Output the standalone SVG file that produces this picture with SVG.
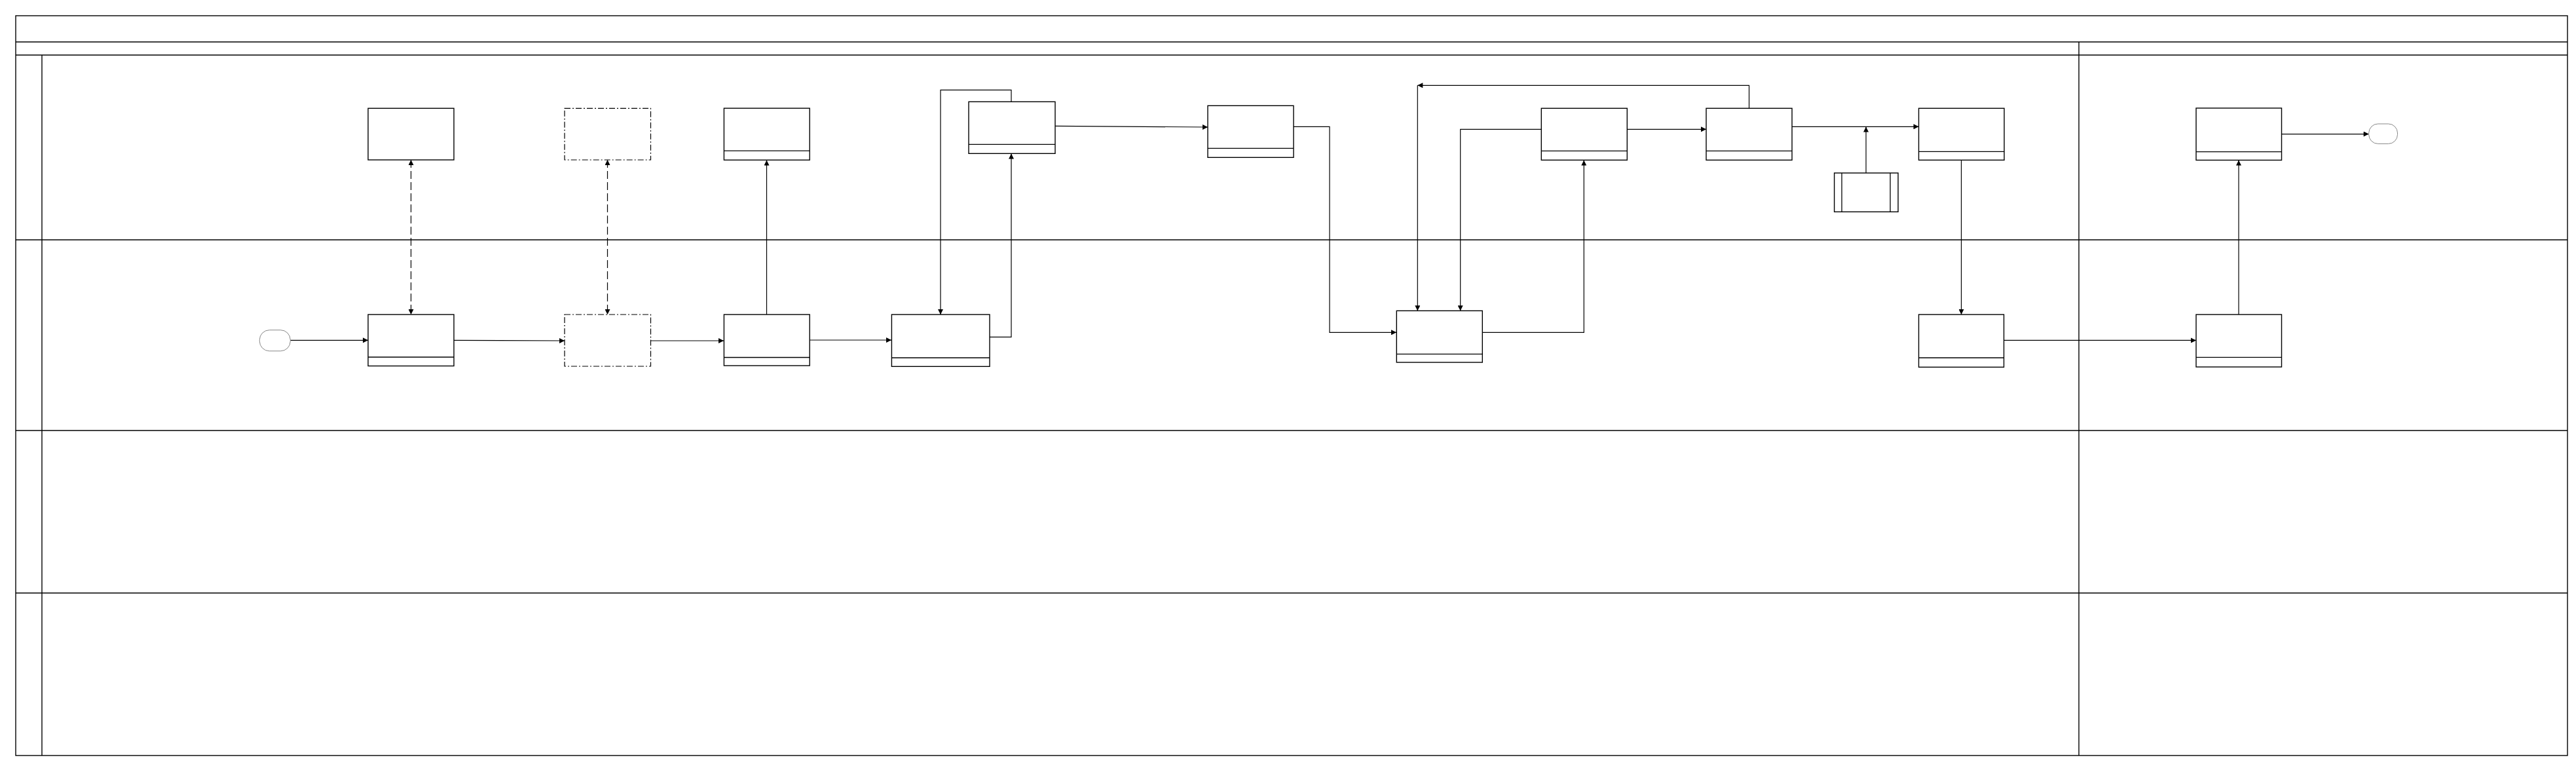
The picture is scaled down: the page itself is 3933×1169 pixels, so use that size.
<svg xmlns="http://www.w3.org/2000/svg" width="3933" height="1169" viewBox="0 0 3933 1169">
<style>
.frame{fill:none;stroke:#000;stroke-width:1.4}
.box{fill:#fff;stroke:#000;stroke-width:1.4}
.dbox{fill:#fff;stroke:#000;stroke-width:1.2;stroke-dasharray:9 3 2 3}
.div{stroke:#000;stroke-width:1.3}
.term{fill:#fff;stroke:#888;stroke-width:1}
.c{fill:none;stroke:#000;stroke-width:1.2}
.cd{fill:none;stroke:#000;stroke-width:1.2;stroke-dasharray:12 5}
</style>
<defs>
<marker id="ah" viewBox="0 0 10 10" refX="10" refY="5" markerWidth="9" markerHeight="8" markerUnits="userSpaceOnUse" orient="auto-start-reverse">
<path d="M0,0 L10,5 L0,10 Z" fill="#000"/>
</marker>
</defs>
<rect width="3933" height="1169" fill="#fff"/>
<g id="pool">
<rect class="frame" x="24" y="24" width="3896" height="1129"/>
<line class="frame" x1="24" y1="64" x2="3920" y2="64"/>
<line class="frame" x1="24" y1="84" x2="3920" y2="84"/>
<line class="frame" x1="24" y1="366" x2="3920" y2="366"/>
<line class="frame" x1="24" y1="657" x2="3920" y2="657"/>
<line class="frame" x1="24" y1="905" x2="3920" y2="905"/>
<line class="frame" x1="64" y1="84" x2="64" y2="1153"/>
<line class="frame" x1="3174" y1="64" x2="3174" y2="1153"/>
</g>
<g id="connectors">
<path class="c" d="M443,519.3 H562" marker-end="url(#ah)"/>
<path class="cd" d="M627.5,244 V480" marker-start="url(#ah)" marker-end="url(#ah)"/>
<path class="cd" d="M927.5,244 V480" marker-start="url(#ah)" marker-end="url(#ah)"/>
<path class="c" d="M693,519.3 L862,520" marker-end="url(#ah)"/>
<path class="c" d="M993.5,520 L1105,520" marker-end="url(#ah)"/>
<path class="c" d="M1170.5,480 V244.5" marker-end="url(#ah)"/>
<path class="c" d="M1236,519 H1361" marker-end="url(#ah)"/>
<path class="c" d="M1544,155.3 V137.3 H1436 V480" marker-end="url(#ah)"/>
<path class="c" d="M1511,514.3 H1544 V234.5" marker-end="url(#ah)"/>
<path class="c" d="M1611,192.3 L1844,194" marker-end="url(#ah)"/>
<path class="c" d="M1975,193.3 H2030 V507.3 H2132" marker-end="url(#ah)"/>
<path class="c" d="M2670.5,165.3 V130.3 H2164.3" marker-end="url(#ah)"/>
<path class="c" d="M2164.3,130.3 V474.3" stroke="#333" marker-end="url(#ah)"/>
<path class="c" d="M2353.3,197.3 H2229.7 V474.3" marker-end="url(#ah)"/>
<path class="c" d="M2263.3,507.3 H2418.3 V244.5" marker-end="url(#ah)"/>
<path class="c" d="M2484.3,197.3 H2605" marker-end="url(#ah)"/>
<path class="c" d="M2736,193.3 H2929.5" marker-end="url(#ah)"/>
<path class="c" d="M2849,264 V193.5" marker-end="url(#ah)"/>
<path class="c" d="M2994.5,244.3 V480" marker-end="url(#ah)"/>
<path class="c" d="M3059.5,519.4 H3353" marker-end="url(#ah)"/>
<path class="c" d="M3418,480 V244.6" marker-end="url(#ah)"/>
<path class="c" d="M3483.5,204.6 H3616.7" marker-end="url(#ah)"/>
</g>
<g id="start"><rect class="term" x="396.3" y="503.7" width="47" height="32" rx="15" ry="15"/></g>
<g id="nodeA"><rect class="box" x="562" y="165.3" width="131" height="78.7"/></g>
<g id="nodeB"><rect class="box" x="562" y="480" width="131" height="78.5"/><line class="div" x1="562" y1="545" x2="693" y2="545"/></g>
<g id="nodeA2"><rect class="dbox" x="862" y="165.3" width="131.5" height="78.7"/></g>
<g id="nodeB2"><rect class="dbox" x="862" y="480" width="131.5" height="79"/></g>
<g id="nodeM"><rect class="box" x="1105.4" y="165.2" width="130.8" height="79"/><line class="div" x1="1105.4" y1="230.1" x2="1236.2" y2="230.1"/></g>
<g id="nodeN"><rect class="box" x="1105.4" y="480" width="130.8" height="78"/><line class="div" x1="1105.4" y1="545.5" x2="1236.2" y2="545.5"/></g>
<g id="nodeC"><rect class="box" x="1479" y="155.3" width="132" height="79"/><line class="div" x1="1479" y1="220.3" x2="1611" y2="220.3"/></g>
<g id="nodeD"><rect class="box" x="1361.4" y="480" width="149.6" height="79.3"/><line class="div" x1="1361.4" y1="546" x2="1511" y2="546"/></g>
<g id="nodeE"><rect class="box" x="1844" y="161.3" width="131" height="79"/><line class="div" x1="1844" y1="226.3" x2="1975" y2="226.3"/></g>
<g id="nodeF"><rect class="box" x="2132.3" y="474.3" width="131" height="78.7"/><line class="div" x1="2132.3" y1="540.3" x2="2263.3" y2="540.3"/></g>
<g id="nodeG"><rect class="box" x="2353.3" y="165.3" width="131" height="79"/><line class="div" x1="2353.3" y1="230.3" x2="2484.3" y2="230.3"/></g>
<g id="nodeH"><rect class="box" x="2605" y="165.3" width="131" height="79"/><line class="div" x1="2605" y1="230.3" x2="2736" y2="230.3"/></g>
<g id="nodeSub"><rect class="box" x="2800.6" y="264" width="97.4" height="59.3"/><line class="div" x1="2812" y1="264" x2="2812" y2="323.3" stroke-width="0.8"/><line class="div" x1="2886" y1="264" x2="2886" y2="323.3" stroke-width="0.8"/></g>
<g id="nodeI"><rect class="box" x="2929.5" y="165.3" width="130.5" height="79"/><line class="div" x1="2929.5" y1="231.3" x2="3060" y2="231.3"/></g>
<g id="nodeJ"><rect class="box" x="2929.5" y="480" width="130" height="80.3"/><line class="div" x1="2929.5" y1="546" x2="3059.5" y2="546"/></g>
<g id="nodeK"><rect class="box" x="3353" y="165" width="130.5" height="79.4"/><line class="div" x1="3353" y1="231.6" x2="3483.5" y2="231.6"/></g>
<g id="nodeL"><rect class="box" x="3353" y="480" width="130.5" height="80"/><line class="div" x1="3353" y1="545.4" x2="3483.5" y2="545.4"/></g>
<g id="end"><rect class="term" x="3616.7" y="189" width="43.8" height="30.4" rx="14" ry="14"/></g>
</svg>
